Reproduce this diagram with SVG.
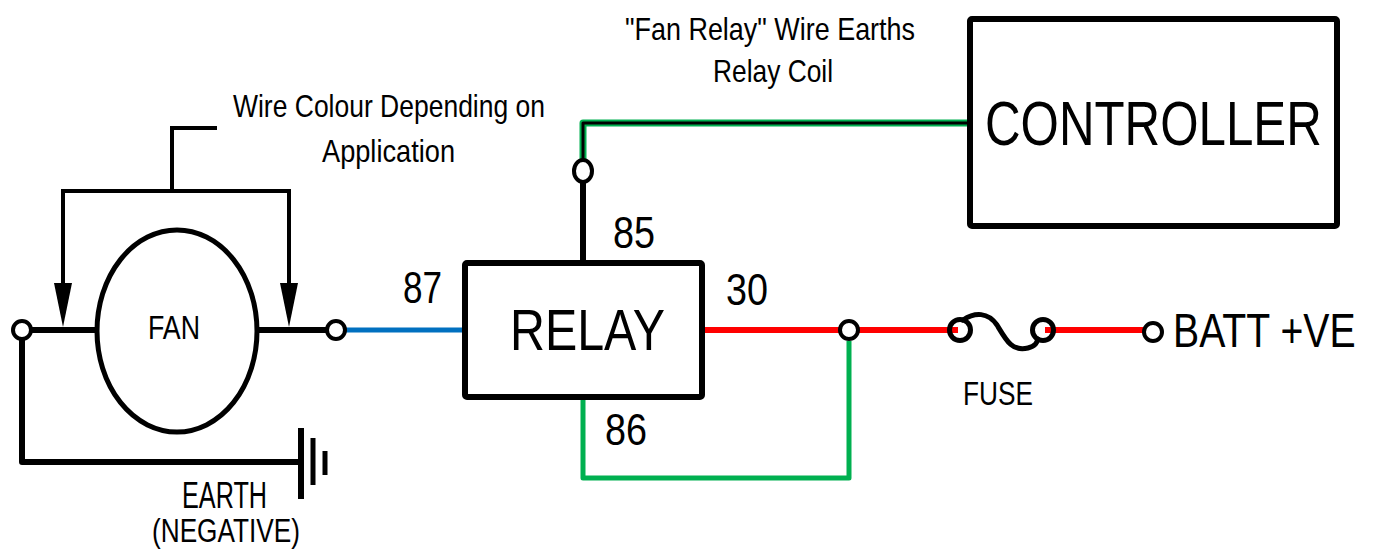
<svg xmlns="http://www.w3.org/2000/svg" width="1376" height="549" viewBox="0 0 1376 549">
<defs>
<style>
.t{font-family:"Liberation Sans",Arial,sans-serif;fill:#000}
.blk{stroke:#000;stroke-width:6;fill:none;stroke-linecap:butt}
.thin{stroke:#000;stroke-width:4;fill:none;stroke-linejoin:miter}
.term{fill:#fff;stroke:#000;stroke-width:4}
.red{stroke:#FF0000;stroke-width:6;fill:none}
.blue{stroke:#0070C0;stroke-width:5;fill:none}
.green{stroke:#00B050;stroke-width:5;fill:none;stroke-linejoin:round}
.box{fill:#fff;stroke:#000;stroke-width:6;stroke-linejoin:round}
.arrowhead{fill:#000}
</style>
</defs>
<rect width="1376" height="549" fill="#fff"/>

<g id="connectors">
<!-- fan leads -->
<line class="blk" x1="30" y1="330" x2="98" y2="330"/>
<line class="blk" x1="256" y1="330" x2="328" y2="330"/>
<!-- earth -->
<polyline class="blk" points="22,340 22,462 301,462" stroke-width="5" stroke-linejoin="round"/>
<!-- wire colour bracket -->
<polyline class="thin" points="217,128 172,128 172,191"/>
<polyline class="thin" points="63,283 63,191 289,191 289,283"/>
<polygon class="arrowhead" points="54,283 72,283 63,327"/>
<polygon class="arrowhead" points="280,283 298,283 289,327"/>
<!-- blue 87 -->
<line class="blue" x1="345" y1="330" x2="466" y2="330"/>
<!-- 85 -->
<line class="blk" x1="583" y1="262" x2="583" y2="181" stroke-width="5"/>
<polyline points="583,160 583,123 970,123" fill="none" stroke="#00B050" stroke-width="7" stroke-linejoin="round"/>
<polyline points="583,160 583,123 970,123" fill="none" stroke="#000" stroke-width="3" stroke-linejoin="round"/>
<!-- 30 red -->
<line class="red" x1="702" y1="330" x2="840" y2="330"/>
<line class="red" x1="859" y1="330" x2="958" y2="330"/>
<line class="red" x1="1045" y1="330" x2="1143" y2="330"/>
<!-- 86 green -->
<polyline class="green" points="583,398 583,478 849,478 849,341"/>
</g>

<g id="ground">
<line x1="301" y1="428" x2="301" y2="499" stroke="#000" stroke-width="6"/>
<line x1="313" y1="438" x2="313" y2="485" stroke="#000" stroke-width="5"/>
<line x1="325" y1="451" x2="325" y2="475" stroke="#000" stroke-width="5"/>
</g>

<g id="fan">
<ellipse cx="177" cy="331" rx="80" ry="101" fill="#fff" stroke="#000" stroke-width="5"/>
<text class="t" x="174" y="339" font-size="33" text-anchor="middle" textLength="52" lengthAdjust="spacingAndGlyphs">FAN</text>
</g>

<g id="terminals">
<circle class="term" cx="22" cy="330" r="9"/>
<circle class="term" cx="336" cy="330" r="9"/>
<ellipse class="term" cx="583" cy="171" rx="9" ry="11"/>
<circle class="term" cx="849" cy="330" r="9"/>
<circle class="term" cx="1153" cy="332" r="9"/>
</g>

<g id="relay">
<rect class="box" x="465" y="263" width="237" height="134" rx="2"/>
<text class="t" x="510" y="350" font-size="57" textLength="155" lengthAdjust="spacingAndGlyphs">RELAY</text>
</g>

<g id="controller">
<rect class="box" x="970" y="19" width="367" height="207" rx="2"/>
<text class="t" transform="translate(985,145) scale(0.795,1)" x="0" y="0" font-size="62">CONTROLLER</text>
</g>

<g id="fuse">
<circle cx="960" cy="330" r="10.5" fill="none" stroke="#000" stroke-width="5"/>
<circle cx="1043" cy="330" r="10.5" fill="none" stroke="#000" stroke-width="5"/>
<path d="M 963 320 C 975 312, 988 312, 997 325 C 1006 340, 1012 352, 1028 348 C 1036 346, 1037 342, 1038 339" fill="none" stroke="#000" stroke-width="5" stroke-linecap="round"/>
<text class="t" x="963" y="405" font-size="34" textLength="70" lengthAdjust="spacingAndGlyphs">FUSE</text>
</g>

<g id="labels">
<text class="t" x="233" y="117" font-size="32" textLength="312" lengthAdjust="spacingAndGlyphs">Wire Colour Depending on</text>
<text class="t" x="322" y="162" font-size="32" textLength="133" lengthAdjust="spacingAndGlyphs">Application</text>
<text class="t" x="625" y="40" font-size="32" textLength="290" lengthAdjust="spacingAndGlyphs">"Fan Relay" Wire Earths</text>
<text class="t" x="713" y="82" font-size="32" textLength="120" lengthAdjust="spacingAndGlyphs">Relay Coil</text>
<text class="t" x="403" y="303" font-size="45" textLength="39" lengthAdjust="spacingAndGlyphs">87</text>
<text class="t" x="613" y="248" font-size="45" textLength="42" lengthAdjust="spacingAndGlyphs">85</text>
<text class="t" x="726" y="305" font-size="45" textLength="42" lengthAdjust="spacingAndGlyphs">30</text>
<text class="t" x="605" y="445" font-size="45" textLength="42" lengthAdjust="spacingAndGlyphs">86</text>
<text class="t" transform="translate(1173,347) scale(0.8,1)" x="0" y="0" font-size="49">BATT +VE</text>
<text class="t" x="182" y="508" font-size="36" textLength="85" lengthAdjust="spacingAndGlyphs">EARTH</text>
<text class="t" x="152" y="542" font-size="33" textLength="148" lengthAdjust="spacingAndGlyphs">(NEGATIVE)</text>
</g>
</svg>
